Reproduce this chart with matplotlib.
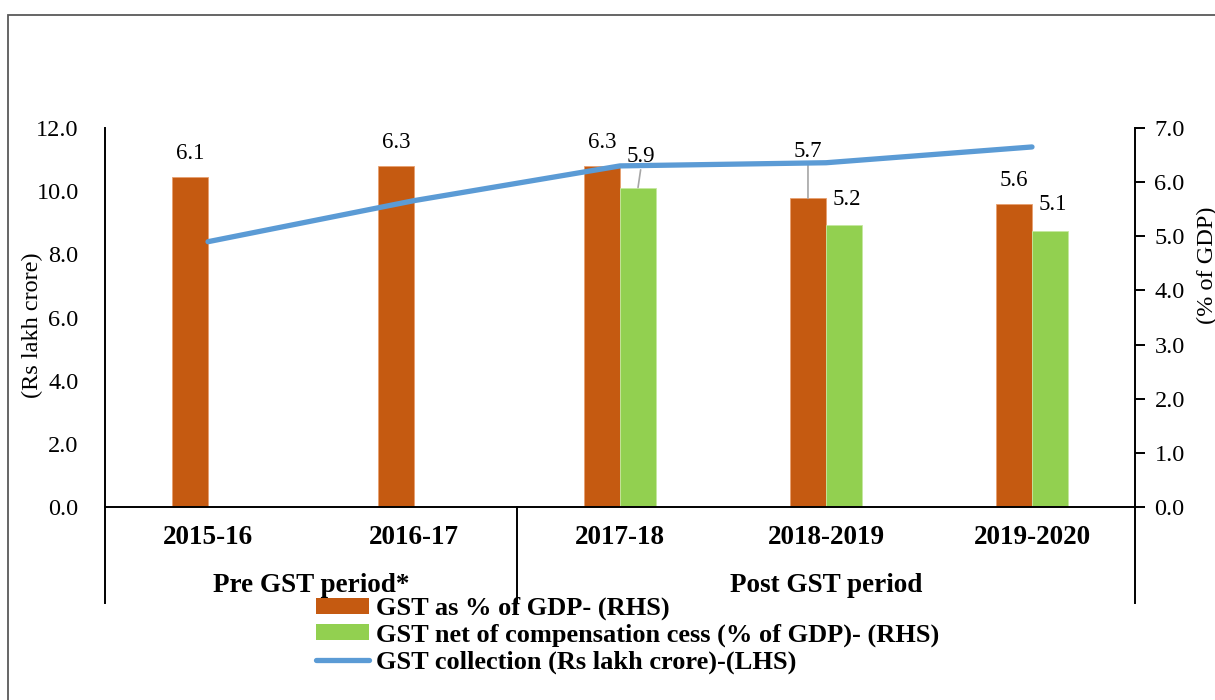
import matplotlib
matplotlib.use('Agg')
import matplotlib.pyplot as plt
import numpy as np
from matplotlib.lines import Line2D
from matplotlib.patches import Patch, Rectangle
import matplotlib.transforms as mtrans

# ---------------- data ----------------
years = ['2015-16', '2016-17', '2017-18', '2018-2019', '2019-2020']
groups = ['Pre GST period*', 'Post GST period']
group_spans = [(0, 1), (2, 4)]
gst_pct_gdp = [6.1, 6.3, 6.3, 5.7, 5.6]
gst_net_cess = [np.nan, np.nan, 5.9, 5.2, 5.1]
gst_collection = [8.4, 9.7, 10.8, 10.9, 11.4]
left_ticks = [0, 2, 4, 6, 8, 10, 12]
right_ticks = [0, 1, 2, 3, 4, 5, 6, 7]
series_names = ['GST as % of GDP- (RHS)',
                'GST net of compensation cess (% of GDP)- (RHS)',
                'GST collection (Rs lakh crore)-(LHS)']

ORANGE = '#C55A11'
GREEN = '#92D050'
BLUE = '#5B9BD5'

plt.rcParams['font.family'] = ['Liberation Serif', 'DejaVu Serif']

W, H = 1215, 700
fig = plt.figure(figsize=(W / 100, H / 100), dpi=100)
fig.patch.set_facecolor('white')

# outer border (extends beyond right / bottom edges)
fig.add_artist(Rectangle((8 / W, -0.2), 1.5, 1 - 15 / H + 0.2, transform=fig.transFigure,
                         fill=False, edgecolor='#595959', lw=1.3))

ax_l, ax_b = 105 / W, 1 - 507 / H
ax_w, ax_h = 1030 / W, 379 / H
ax2 = fig.add_axes([ax_l, ax_b, ax_w, ax_h])   # bars, right axis
ax = ax2.twinx()                                 # line, left axis

x = np.arange(len(years))
bw = 0.175

ax2.bar(x - bw / 2, gst_pct_gdp, bw, color=ORANGE, edgecolor='#E8A070', lw=0.6, zorder=2)
ax2.bar(x + bw / 2, gst_net_cess, bw, color=GREEN, edgecolor='#C5E8A0', lw=0.6, zorder=2)
ax2.set_ylim(0, 7)
ax2.set_xlim(-0.5, len(years) - 0.5)
ax2.yaxis.tick_right()
ax2.set_yticks(right_ticks)
ax2.set_yticklabels([f'{v:.1f}' for v in right_ticks])
ax2.tick_params(axis='y', direction='out', length=7, width=1.4, pad=7, labelsize=17.5)
ax2.set_xticks([])

ax.plot(x, gst_collection, color=BLUE, lw=3.8, solid_capstyle='round', zorder=5)
ax.set_ylim(0, 12)
ax.yaxis.tick_left()
ax.set_yticks(left_ticks)
ax.set_yticklabels([f'{v:.1f}' for v in left_ticks])
ax.tick_params(axis='y', length=0, pad=19, labelsize=17.5)
ax.set_xticks([])

for a in (ax, ax2):
    for s in a.spines.values():
        s.set_visible(False)
    a.patch.set_visible(False)

# axis lines (multi-level category axis)
ext = -(603 - 507) / 379
tr = ax2.transAxes
for xx in (0, 1, 2 / 5):
    ax2.add_line(Line2D([xx, xx], [ext, 0 if xx == 2 / 5 else 1], transform=tr, color='black',
                        lw=1.4, clip_on=False))
ax2.add_line(Line2D([0, 1], [0, 0], transform=tr, color='black', lw=1.4, clip_on=False))

# category labels
btr = mtrans.blended_transform_factory(ax2.transData, ax2.transAxes)
for i, yr in enumerate(years):
    ax2.text(i, -(538 - 507) / 379, yr, transform=btr, ha='center', va='center',
             fontsize=19.5, fontweight='bold')
for g, (s, e) in zip(groups, group_spans):
    ax2.text((s + e) / 2, -(585 - 507) / 379, g, transform=btr, ha='center', va='center',
             fontsize=19.5, fontweight='bold')

# data labels
def lab(xv, yv, txt, dx=0, dy=25, leader=False):
    kw = {}
    if leader:
        kw['arrowprops'] = dict(arrowstyle='-', color='#A6A6A6', lw=1.2, shrinkA=0, shrinkB=0,
                                relpos=(0.5, 0.0))
    ax2.annotate(txt, xy=(xv, yv), xytext=(dx, dy), textcoords='offset pixels',
                 ha='center', va='center', fontsize=16.5, zorder=6, **kw)

for i, v in enumerate(gst_pct_gdp):
    if i == 3:
        lab(x[i] - bw / 2, v, f'{v:.1f}', dx=0, dy=47, leader=True)
    else:
        lab(x[i] - bw / 2, v, f'{v:.1f}', dy=23)
for i, v in enumerate(gst_net_cess):
    if np.isnan(v):
        continue
    if i == 2:
        lab(x[i] + bw / 2, v, f'{v:.1f}', dx=3, dy=31, leader=True)
    else:
        lab(x[i] + bw / 2, v, f'{v:.1f}', dx=3, dy=26)

# axis titles
fig.text(32 / W, 1 - 325 / H, '(Rs lakh crore)', rotation=90, ha='center', va='center', fontsize=17.5)
fig.text(1207 / W, 1 - 265 / H, '(% of GDP)', rotation=90, ha='center', va='center', fontsize=17.5)

# legend
handles = [Patch(facecolor=ORANGE, edgecolor='none'),
           Patch(facecolor=GREEN, edgecolor='none'),
           Line2D([0], [0], color=BLUE, lw=3.8, solid_capstyle='round')]
fig.legend(handles, series_names, loc='upper left', bbox_to_anchor=(316 / W, 1 - 597 / H),
           frameon=False, prop={'weight': 'bold', 'size': 19}, handlelength=2.0,
           handleheight=0.55, handletextpad=0.27, labelspacing=0.12, borderpad=0, borderaxespad=0)

fig.savefig('out.png', dpi=100)
